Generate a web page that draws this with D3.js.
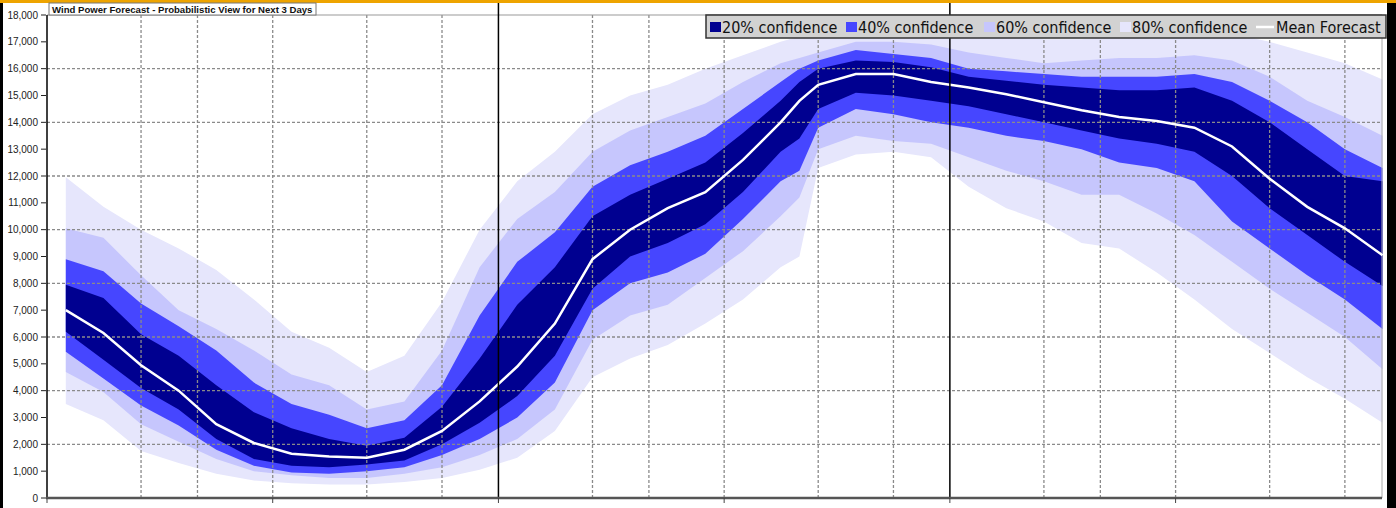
<!DOCTYPE html>
<html lang="en">
<head>
<meta charset="UTF-8">
<script src="https://cdn.jsdelivr.net/npm/d3@7"></script>
<title>Wind Power Forecast</title>
<style>
    body { margin: 0; background: white; }
    svg { display: block; }
    .ytick text { font-family: "Liberation Sans", Arial, sans-serif; font-size: 10px; fill: #222; }
    .legend text { font-family: "Liberation Sans Narrow", "DejaVu Sans Condensed", sans-serif; font-size: 16px; fill: #111; }
    .title { font-family: "Liberation Sans", Arial, sans-serif; font-size: 9.6px; font-weight: bold; fill: #111; }
</style>
</head>
<body>
<div id="chart"></div>
<script>
    // hours ahead of forecast start
    const hours = [1, 3, 5, 7, 9, 11, 13, 15, 17, 19, 21, 23, 25, 27, 29, 31, 33, 35, 37, 39, 40, 41, 43, 45, 47, 49, 51, 53, 55, 57, 59, 61, 63, 65, 67, 69, 71];

    const meanForecast = [7000, 6150, 4950, 4000, 2750, 2050, 1650, 1550, 1500, 1800, 2500, 3600, 4900, 6500, 8900, 10000, 10800, 11400, 12600, 14000, 14800, 15400, 15800, 15800, 15500, 15300, 15050, 14750, 14450, 14200, 14050, 13800, 13100, 11900, 10850, 10050, 9050];

    // band edges (upper / lower) for each confidence level
    const hi20 = [7950, 7450, 6100, 5300, 4200, 3200, 2600, 2200, 1950, 2250, 3400, 5200, 7200, 8600, 10500, 11300, 11900, 12500, 13600, 14800, 15500, 16000, 16300, 16250, 16050, 15700, 15550, 15400, 15300, 15200, 15200, 15300, 14800, 14000, 13000, 12000, 11800];
    const lo20 = [6200, 5150, 4100, 3300, 2200, 1450, 1200, 1150, 1250, 1400, 2000, 2800, 3800, 5300, 7800, 9000, 9500, 10200, 11400, 12900, 13400, 14500, 15100, 15000, 14800, 14600, 14300, 14000, 13700, 13400, 13200, 12900, 12000, 10800, 9800, 8800, 7900];
    const hi40 = [8900, 8450, 7250, 6400, 5500, 4300, 3500, 3100, 2600, 2900, 4200, 6800, 8800, 9900, 11600, 12400, 12900, 13500, 14500, 15500, 16000, 16300, 16700, 16550, 16400, 16000, 15900, 15800, 15700, 15700, 15700, 15800, 15500, 14800, 14000, 13000, 12300];
    const lo40 = [5450, 4450, 3450, 2700, 1800, 1200, 950, 900, 1000, 1150, 1600, 2200, 3000, 4300, 7000, 8000, 8400, 9100, 10400, 11800, 12200, 13800, 14500, 14300, 14000, 13800, 13500, 13300, 13000, 12500, 12300, 11800, 10300, 9300, 8300, 7400, 6300];
    const hi60 = [10050, 9700, 8300, 7000, 6300, 5500, 4600, 4200, 3300, 3600, 5500, 8600, 10400, 11400, 12900, 13700, 14200, 14700, 15500, 16200, 16400, 16600, 17000, 17000, 16900, 16600, 16400, 16200, 16300, 16400, 16400, 16500, 16300, 15700, 14800, 14200, 13500];
    const lo60 = [4700, 3950, 2750, 2100, 1450, 1000, 850, 750, 750, 900, 1150, 1600, 2200, 3300, 5900, 6800, 7200, 8200, 9200, 10500, 11200, 13000, 13500, 13300, 13200, 12700, 12200, 11800, 11300, 11300, 10600, 9800, 8800, 7800, 6900, 6000, 4800];
    const hi80 = [11950, 10850, 10000, 9300, 8500, 7400, 6200, 5600, 4700, 5300, 7300, 10000, 11800, 12900, 14300, 15000, 15400, 16000, 16500, 17000, 17200, 17300, 17600, 17600, 17500, 17300, 17200, 17100, 17100, 17200, 17300, 17300, 17300, 17000, 16600, 16200, 15600];
    const lo80 = [3500, 2900, 1750, 1300, 900, 650, 550, 500, 500, 600, 750, 1050, 1500, 2500, 4500, 5200, 5700, 6500, 7400, 8600, 9000, 12300, 12800, 12900, 12700, 11600, 10800, 10300, 9500, 9300, 8400, 7400, 6300, 5400, 4500, 3700, 2800];

    const yTicks = d3.range(0, 18001, 1000);
    const yGrid = [2000, 4000, 6000, 8000, 10000, 12000, 14000, 16000];
    const xGridHours = [5, 8, 12, 17, 21, 29, 32, 36, 41, 45, 53, 56, 60, 65, 69];
    const dayHours = [24, 48];
    const xTickHours = [0, 12, 24, 36, 48, 60];

    const legendNames = ["20% confidence", "40% confidence", "60% confidence", "80% confidence", "Mean Forecast"];
    const bandColors = { b20: "#000090", b40: "#4646ff", b60: "#c6c6fd", b80: "#e6e6fc" };

    const width = 1396, height = 508;
    const svg = d3.select("#chart").append("svg").attr("width", width).attr("height", height);

    // frame strips
    svg.append("rect").attr("x", 0).attr("y", 0).attr("width", 3).attr("height", height).attr("fill", "#000");
    svg.append("rect").attr("x", 1387).attr("y", 0).attr("width", 9).attr("height", height).attr("fill", "#000");
    svg.append("rect").attr("x", 0).attr("y", 0).attr("width", width).attr("height", 3).attr("fill", "#eea400");

    const x = d3.scaleLinear().domain([0, 71]).range([47, 1382.5]);
    const y = d3.scaleLinear().domain([0, 18000]).range([498, 15]);

    const band = (hiArr, loArr) => d3.area()
        .x((d, i) => x(hours[i]))
        .y0((d, i) => y(loArr[i]))
        .y1((d, i) => y(hiArr[i]))(hours);

    svg.append("path").attr("d", band(hi80, lo80)).attr("fill", bandColors.b80);
    svg.append("path").attr("d", band(hi60, lo60)).attr("fill", bandColors.b60);
    svg.append("path").attr("d", band(hi40, lo40)).attr("fill", bandColors.b40);
    svg.append("path").attr("d", band(hi20, lo20)).attr("fill", bandColors.b20);

    // grid
    svg.selectAll(".hgrid").data(yGrid).enter().append("line")
        .attr("x1", 47).attr("x2", 1382)
        .attr("y1", d => y(d)).attr("y2", d => y(d))
        .attr("stroke", "#8a8a8a").attr("stroke-width", 1.3).attr("stroke-dasharray", "3,2");
    svg.selectAll(".vgrid").data(xGridHours).enter().append("line")
        .attr("x1", d => x(d)).attr("x2", d => x(d))
        .attr("y1", y(18000)).attr("y2", y(0))
        .attr("stroke", "#8a8a8a").attr("stroke-width", 1.3).attr("stroke-dasharray", "3,2");
    svg.append("line").attr("x1", 47).attr("x2", 1382).attr("y1", y(18000)).attr("y2", y(18000))
        .attr("stroke", "#999").attr("stroke-width", 1);
    svg.append("line").attr("x1", 1382).attr("x2", 1382).attr("y1", y(18000)).attr("y2", y(0))
        .attr("stroke", "#aaa").attr("stroke-width", 1);

    // mean
    svg.append("path").datum(meanForecast)
        .attr("d", d3.line().x((d, i) => x(hours[i])).y(d => y(d)))
        .attr("fill", "none").attr("stroke", "white").attr("stroke-width", 2.5);

    // day separators
    svg.selectAll(".day").data(dayHours).enter().append("line")
        .attr("x1", d => x(d)).attr("x2", d => x(d))
        .attr("y1", 3).attr("y2", y(0))
        .attr("stroke", "#000").attr("stroke-width", 1.5);

    // axes
    const yAxis = svg.append("g").attr("class", "ytick");
    yAxis.selectAll("line").data(yTicks).enter().append("line")
        .attr("x1", 41).attr("x2", 46).attr("y1", d => y(d)).attr("y2", d => y(d))
        .attr("stroke", "#222").attr("stroke-width", 1);
    yAxis.selectAll("text").data(yTicks).enter().append("text")
        .attr("x", 38).attr("y", d => y(d) + 3.5).attr("text-anchor", "end")
        .text(d => d3.format(",")(d));
    svg.append("line").attr("x1", 47).attr("x2", 47).attr("y1", y(18000)).attr("y2", y(0))
        .attr("stroke", "#000").attr("stroke-width", 1.5);
    svg.append("line").attr("x1", 46).attr("x2", 1382).attr("y1", y(0)).attr("y2", y(0))
        .attr("stroke", "#555").attr("stroke-width", 2.5);
    svg.selectAll(".xtick").data(xTickHours).enter().append("line")
        .attr("x1", d => x(d)).attr("x2", d => x(d)).attr("y1", y(0)).attr("y2", y(0) + 5)
        .attr("stroke", "#444").attr("stroke-width", 1);

    // title box
    svg.append("rect").attr("x", 49).attr("y", 3).attr("width", 267).attr("height", 12)
        .attr("fill", "white").attr("stroke", "#777").attr("stroke-width", 1);
    svg.append("text").attr("class", "title").attr("x", 52).attr("y", 12.5)
        .text("Wind Power Forecast - Probabilistic View for Next 3 Days");

    // legend
    const legend = svg.append("g").attr("class", "legend");
    legend.append("rect").attr("x", 706).attr("y", 15).attr("width", 680).attr("height", 23)
        .attr("fill", "#d2d2d2").attr("stroke", "#333").attr("stroke-width", 1.5);
    const legendX = [710, 846, 984, 1120, 1256];
    const swatchColors = [bandColors.b20, bandColors.b40, bandColors.b60, bandColors.b80];
    legendNames.forEach((name, i) => {
        if (i < 4) {
            legend.append("rect").attr("x", legendX[i]).attr("y", 22).attr("width", 11).attr("height", 10)
                .attr("fill", swatchColors[i]);
        } else {
            legend.append("line").attr("x1", legendX[i]).attr("x2", legendX[i] + 18)
                .attr("y1", 27).attr("y2", 27).attr("stroke", "white").attr("stroke-width", 2.5);
        }
        legend.append("text").attr("x", legendX[i] + (i < 4 ? 12 : 20)).attr("y", 33).text(name);
    });
</script>
</body>
</html>
